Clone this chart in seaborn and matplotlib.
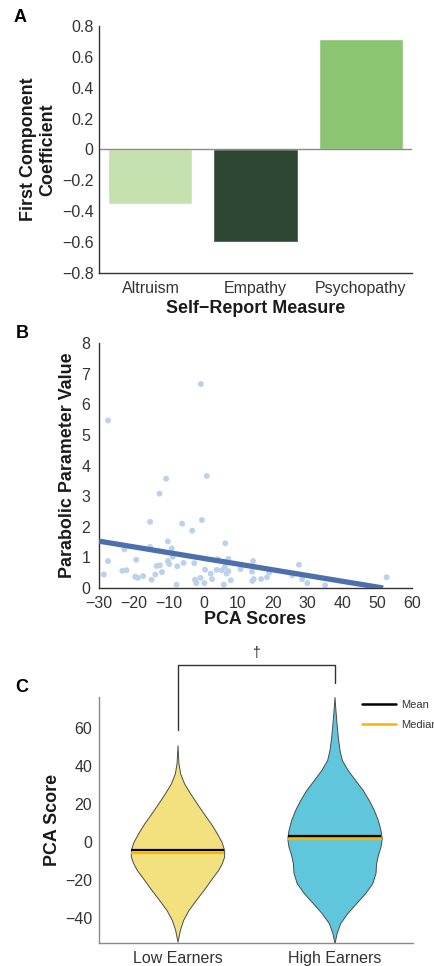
import numpy as np
import pandas as pd
import seaborn as sns
import matplotlib.pyplot as plt
from matplotlib.lines import Line2D

# ---- data -------------------------------------------------------------
measures = ['Altruism', 'Empathy', 'Psychopathy']
coefficients = [-0.355, -0.60, 0.715]
bar_colors = ['#c6e1b0', '#2c4631', '#8bc572']
coef_ticks = [-0.8, -0.6, -0.4, -0.2, 0, 0.2, 0.4, 0.6, 0.8]
coef_tick_labels = ['\u22120.8', '\u22120.6', '\u22120.4', '\u22120.2', '0', '0.2', '0.4', '0.6', '0.8']

pca_scores = [-27.4, -0.7, 1.0, -10.7, -12.6, -15.3, -6.1, -0.4, -3.2, 6.3,
              -10.2, -9.1, -15.3, -22.7, -27.4, -28.6, -19.3, -23.3, -22.1, -19.6,
              -18.8, -17.3, -14.9, -13.8, -13.4, -12.5, -11.9, -10.2, -9.8, -8.8,
              -7.7, -7.5, -5.7, -2.6, -2.4, -2.0, -0.8, 0.3, 0.5, 2.1,
              2.5, 3.8, 4.2, 5.3, 5.9, 6.2, 6.7, 7.2, 7.2, 7.9,
              10.7, 14.3, 14.0, 14.5, 14.1, 16.6, 18.3, 18.9, 25.6, 27.5,
              28.4, 29.9, 35.0, 52.7]
parabolic_values = [5.47, 6.66, 3.66, 3.57, 3.08, 2.16, 2.10, 2.22, 1.87, 1.46,
                    1.52, 1.29, 1.34, 1.26, 0.88, 0.44, 0.92, 0.56, 0.58, 0.37,
                    0.33, 0.39, 0.27, 0.44, 0.72, 0.74, 0.52, 0.88, 0.78, 1.02,
                    0.11, 0.71, 0.82, 0.81, 0.27, 0.16, 0.33, 0.16, 0.60, 0.47,
                    0.29, 0.59, 0.94, 0.58, 0.11, 0.69, 0.47, 0.55, 0.95, 0.25,
                    0.62, 0.88, 0.53, 0.29, 0.23, 0.29, 0.35, 0.50, 0.41, 0.76,
                    0.29, 0.16, 0.09, 0.35]
fit_x = [-30, 51.7]
fit_y = [1.53, 0.0]

groups = ['Low Earners', 'High Earners']
group_colors = ['#f2e17e', '#60c6dc']
# violin outlines: score level and half width
low_y = [50.7, 41.2, 35.9, 30.7, 25.4, 20.2, 15.0, 9.7, 4.5, 0.1, -4.2, -7.7,
         -11.2, -14.7, -19.9, -25.2, -30.4, -35.7, -40.9, -46.1, -52.3]
low_hw = [0.0, 0.006, 0.017, 0.042, 0.081, 0.123, 0.166, 0.212, 0.251, 0.280, 0.297, 0.297,
          0.282, 0.259, 0.212, 0.166, 0.117, 0.070, 0.036, 0.015, 0.0]
high_y = [76.0, 69.1, 62.1, 55.1, 48.1, 42.9, 37.6, 32.4, 27.2, 21.9, 16.7, 11.5, 6.2,
          1.9, -2.5, -6.9, -11.2, -16.4, -21.7, -26.9, -32.1, -37.4, -42.6, -47.9, -53.1]
high_hw = [0.0, 0.006, 0.013, 0.021, 0.032, 0.047, 0.085, 0.132, 0.180, 0.219, 0.251, 0.276, 0.293,
           0.301, 0.293, 0.276, 0.265, 0.261, 0.240, 0.195, 0.138, 0.081, 0.036, 0.013, 0.0]
group_means = [-4.4, 2.9]
group_medians = [-5.6, 1.4]

# ---- style ------------------------------------------------------------
sns.set_theme(style='white')
plt.rcParams['font.family'] = ['Liberation Sans', 'DejaVu Sans']
tick_color = '#333333'
label_kw = dict(fontsize=12.9, fontweight='bold', color='#1a1a1a')

fig = plt.figure(figsize=(4.34, 9.66), dpi=100)
W, H = 434, 966


def px_axes(left, top, right, bottom):
    return fig.add_axes([left / W, 1 - bottom / H, (right - left) / W, (bottom - top) / H])


def tidy(ax, spine_color, ypad, xpad):
    sns.despine(ax=ax)
    for s in ['left', 'bottom']:
        ax.spines[s].set_color(spine_color)
        ax.spines[s].set_linewidth(1.0)
    ax.tick_params(length=0, labelsize=11.5, colors=tick_color)
    ax.tick_params(axis='y', pad=ypad)
    ax.tick_params(axis='x', pad=xpad)


# ---- panel A ----------------------------------------------------------
axA = px_axes(99, 26, 412, 273)
df_a = pd.DataFrame({'measure': measures, 'coef': coefficients})
sns.barplot(data=df_a, x='measure', y='coef', hue='measure', palette=bar_colors,
            saturation=1, width=0.8, legend=False, ax=axA)
axA.axhline(0, color='#8a8a8a', lw=1.0)
axA.set_ylim(-0.8, 0.8)
axA.set_xlim(-0.49, 2.49)
axA.set_yticks(coef_ticks)
axA.set_yticklabels(coef_tick_labels)
axA.set_xlabel('Self\u2212Report Measure', labelpad=3, **label_kw)
axA.set_ylabel('First Component\nCoefficient', labelpad=4, linespacing=1.2, **label_kw)
tidy(axA, '#333333', 3.8, 5.5)

# ---- panel B ----------------------------------------------------------
axB = px_axes(99, 343, 412, 588)
sns.scatterplot(x=pca_scores, y=parabolic_values, color='#bcd1ea', s=18,
                edgecolor='none', ax=axB, clip_on=False, zorder=2)
sns.lineplot(x=fit_x, y=fit_y, color='#4d70ad', lw=3.8, ax=axB, zorder=3,
             solid_capstyle='butt')
axB.set_xlim(-30, 60)
axB.set_ylim(0, 8)
axB.set_xticks(range(-30, 61, 10))
axB.set_yticks(range(0, 9))
axB.set_xlabel('PCA Scores', labelpad=0, **label_kw)
axB.set_ylabel('Parabolic Parameter Value', labelpad=4, **label_kw)
tidy(axB, '#333333', 6.3, 6.0)

# ---- panel C ----------------------------------------------------------
axC = px_axes(99, 697, 413, 943)
profiles = [(low_y, low_hw), (high_y, high_hw)]
for i, (yy, hw) in enumerate(profiles):
    yy = np.array(yy)
    hw = np.array(hw)
    axC.fill_betweenx(yy, i - hw, i + hw, facecolor=group_colors[i],
                      edgecolor='#4a4a4a', lw=0.7, zorder=2)
    order = np.argsort(yy)
    for val, col in [(group_medians[i], '#f7b500'), (group_means[i], 'black')]:
        w = np.interp(val, yy[order], hw[order])
        axC.plot([i - w, i + w], [val, val], color=col, lw=1.6, zorder=3,
                 solid_capstyle='butt')
axC.set_xlim(-0.5, 1.5)
axC.set_ylim(-53, 76)
axC.set_xticks([0, 1])
axC.set_xticklabels(groups)
axC.set_yticks([-40, -20, 0, 20, 40, 60])
axC.set_yticklabels(['\u221240', '\u221220', '0', '20', '40', '60'])
axC.set_ylabel('PCA Score', labelpad=3, **label_kw)
tidy(axC, '#8a8a8a', 4.8, 6.0)

# significance bracket
axC.plot([0, 0, 1, 1], [58.6, 92.6, 92.6, 83.2], color='#333333', lw=1.0, clip_on=False)
axC.text(0.5, 99, '\u2020', ha='center', va='center', fontsize=10, color='#222222')

handles = [Line2D([], [], color='black', lw=1.8), Line2D([], [], color='#f7b500', lw=1.8)]
axC.legend(handles, ['Mean', 'Median'], loc='upper left',
           bbox_to_anchor=(362 / W, 1 - 700 / H), bbox_transform=fig.transFigure,
           frameon=False, fontsize=8, handlelength=3.06, handletextpad=0.45,
           labelspacing=0.86, borderpad=0, borderaxespad=0, labelcolor='#333333')

# panel letters
for letter, (x, y) in zip('ABC', [(20, 18), (22, 334), (22, 688)]):
    fig.text(x / W, 1 - y / H, letter, fontsize=13, fontweight='bold',
             ha='center', va='center', color='black')

fig.savefig('out.png', dpi=100)
